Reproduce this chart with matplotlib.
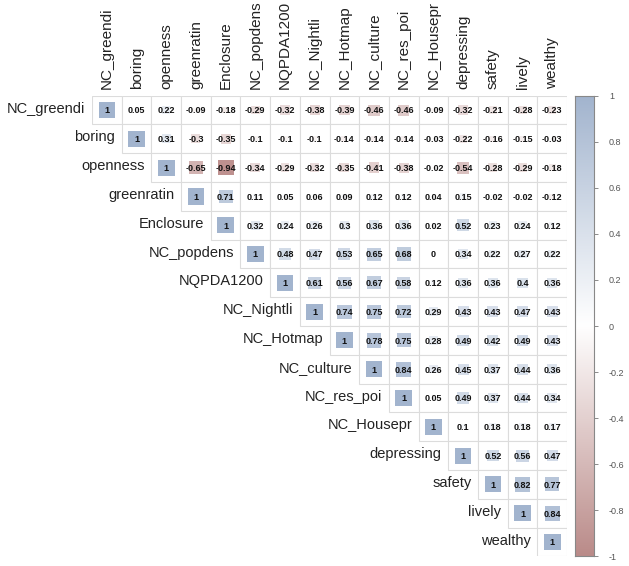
import numpy as np
import matplotlib
matplotlib.use("Agg")
import matplotlib.pyplot as plt
from matplotlib.colors import LinearSegmentedColormap, Normalize
from matplotlib.patches import Rectangle

plt.rcParams["font.family"] = ["Liberation Sans", "DejaVu Sans"]

labels = ["NC_greendi", "boring", "openness", "greenratin", "Enclosure",
          "NC_popdens", "NQPDA1200", "NC_Nightli", "NC_Hotmap", "NC_culture",
          "NC_res_poi", "NC_Housepr", "depressing", "safety", "lively", "wealthy"]

# upper triangle, row by row (columns to the right of the diagonal)
r_greendi = [0.05, 0.22, -0.09, -0.18, -0.29, -0.32, -0.38, -0.39, -0.46, -0.46, -0.09, -0.32, -0.21, -0.28, -0.23]
r_boring = [0.31, -0.3, -0.35, -0.1, -0.1, -0.1, -0.14, -0.14, -0.14, -0.03, -0.22, -0.16, -0.15, -0.03]
r_openness = [-0.65, -0.94, -0.34, -0.29, -0.32, -0.35, -0.41, -0.38, -0.02, -0.54, -0.28, -0.29, -0.18]
r_greenratin = [0.71, 0.11, 0.05, 0.06, 0.09, 0.12, 0.12, 0.04, 0.15, -0.02, -0.02, -0.12]
r_enclosure = [0.32, 0.24, 0.26, 0.3, 0.36, 0.36, 0.02, 0.52, 0.23, 0.24, 0.12]
r_popdens = [0.48, 0.47, 0.53, 0.65, 0.68, 0, 0.34, 0.22, 0.27, 0.22]
r_nqpda = [0.61, 0.56, 0.67, 0.58, 0.12, 0.36, 0.36, 0.4, 0.36]
r_nightli = [0.74, 0.75, 0.72, 0.29, 0.43, 0.43, 0.47, 0.43]
r_hotmap = [0.78, 0.75, 0.28, 0.49, 0.42, 0.49, 0.43]
r_culture = [0.84, 0.26, 0.45, 0.37, 0.44, 0.36]
r_res_poi = [0.05, 0.49, 0.37, 0.44, 0.34]
r_housepr = [0.1, 0.18, 0.18, 0.17]
r_depressing = [0.52, 0.56, 0.47]
r_safety = [0.82, 0.77]
r_lively = [0.84]
r_wealthy = []

rows = [r_greendi, r_boring, r_openness, r_greenratin, r_enclosure, r_popdens,
        r_nqpda, r_nightli, r_hotmap, r_culture, r_res_poi, r_housepr,
        r_depressing, r_safety, r_lively, r_wealthy]

cbar_ticks = [-1, -0.8, -0.6, -0.4, -0.2, 0, 0.2, 0.4, 0.6, 0.8, 1]

n = len(labels)
corr = np.eye(n)
for i, vals in enumerate(rows):
    for k, v in enumerate(vals):
        corr[i, i + 1 + k] = v
        corr[i + 1 + k, i] = v

cmap = LinearSegmentedColormap.from_list("muted", ["#ba8b89", "#ffffff", "#a2b4ce"])
norm = Normalize(-1, 1)

fig = plt.figure(figsize=(6.29, 5.66), dpi=100)
ax = fig.add_axes([0.1463, 0.017, 0.7552, 0.814])
ax.set_xlim(-0.5, n - 0.5)
ax.set_ylim(n - 0.5, -0.5)
ax.axis("off")

for i in range(n):
    for j in range(i, n):
        ax.add_patch(Rectangle((j - 0.5, i - 0.5), 1, 1, facecolor="white",
                               edgecolor="#dcdcdc", linewidth=0.8, zorder=1))
        v = corr[i, j]
        s = 0.56 * np.sqrt(abs(v))
        if s > 0:
            ax.add_patch(Rectangle((j - s / 2, i - s / 2), s, s,
                                   facecolor=cmap(norm(v)), edgecolor="none", zorder=2))
        txt = f"{round(v, 2):g}"
        if txt == "-0":
            txt = "0"
        ax.text(j, i + 0.03, txt, ha="center", va="center", fontsize=6.5,
                fontweight="bold", color="#111111", zorder=3)
    # row label left of the diagonal cell
    ax.text(i - 0.72, i - 0.05, labels[i], ha="right", va="center",
            fontsize=10.5, color="#222222")
    # column label above the grid
    ax.text(i, -0.72, labels[i], ha="center", va="bottom", rotation=90,
            fontsize=11, color="#222222")

cax = fig.add_axes([0.914, 0.017, 0.030, 0.814])
grad = np.linspace(-1, 1, 256).reshape(-1, 1)
cax.imshow(grad, aspect="auto", cmap=cmap, norm=norm, origin="lower",
           extent=[0, 1, -1, 1])
cax.set_xticks([])
cax.yaxis.tick_right()
cax.set_yticks(cbar_ticks)
cax.set_yticklabels([f"{t:g}" for t in cbar_ticks])
cax.tick_params(axis="y", length=3, width=0.6, color="#777777",
                labelsize=6.5, labelcolor="#555555", pad=8)
for sp in cax.spines.values():
    sp.set_color("#888888")
    sp.set_linewidth(0.8)

fig.savefig("out.png", dpi=100)
